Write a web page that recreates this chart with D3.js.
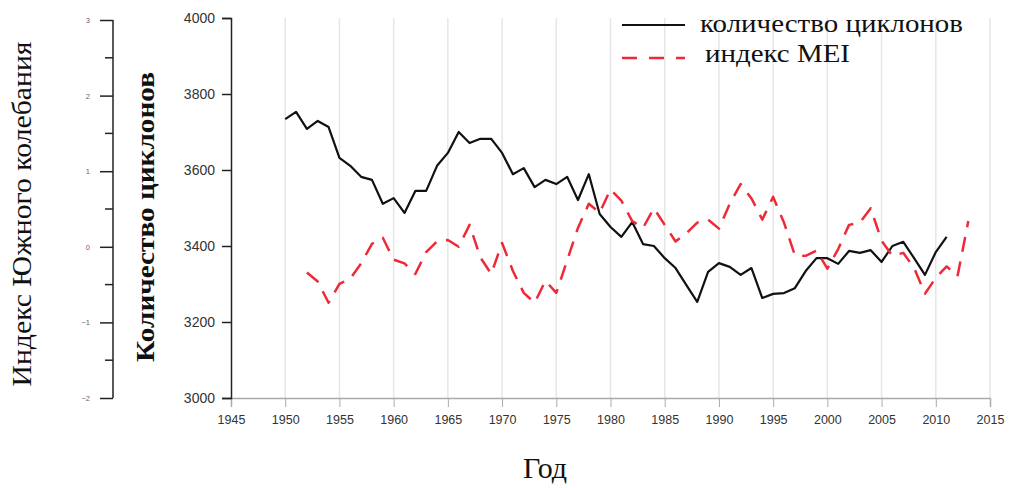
<!DOCTYPE html>
<html lang="ru">
<head>
    <meta charset="UTF-8">
    <script src="https://d3js.org/d3.v7.min.js"></script>
    <style>
        body { margin: 0; background: white; }
        text { font-family: "Liberation Sans", Arial, sans-serif; }
    </style>
</head>
<body>
    <svg id="chart" width="1010" height="488"></svg>
    <script>
        // годы и количество циклонов (1950-2011)
        const cycloneYears = d3.range(1950, 2012);
        const cyclones = [3734, 3753, 3708, 3729, 3713, 3632, 3611, 3582, 3574, 3511,
                          3526, 3487, 3545, 3545, 3611, 3645, 3700, 3671, 3682, 3682,
                          3645, 3589, 3605, 3555, 3574, 3563, 3582, 3521, 3589, 3484,
                          3450, 3424, 3463, 3405, 3400, 3368, 3342, 3297, 3253, 3332,
                          3355, 3345, 3324, 3342, 3263, 3274, 3276, 3289, 3334, 3368,
                          3368, 3353, 3387, 3382, 3389, 3358, 3400, 3411, 3368, 3324,
                          3384, 3424];

        // индекс MEI (1952-2013)
        const meiYears = d3.range(1952, 2014);
        const mei = [-0.34, -0.46, -0.74, -0.49, -0.42, -0.22, 0.04, 0.12, -0.17, -0.22,
                     -0.36, -0.07, 0.07, 0.09, 0.00, 0.29, -0.14, -0.36, 0.05, -0.32,
                     -0.61, -0.74, -0.45, -0.61, -0.18, 0.25, 0.57, 0.45, 0.76, 0.61,
                     0.34, 0.25, 0.51, 0.29, 0.07, 0.18, 0.32, 0.36, 0.24, 0.57,
                     0.83, 0.64, 0.36, 0.66, 0.32, -0.11, -0.12, -0.05, -0.29, -0.03,
                     0.29, 0.32, 0.51, 0.08, -0.12, -0.08, -0.28, -0.62, -0.41, -0.26,
                     -0.39, 0.34];

        const yearTicks = d3.range(1945, 2016, 5);
        const cycloneTicks = [3000, 3200, 3400, 3600, 3800, 4000];
        const indexTicks = [-2, -1, 0, 1, 2, 3];

        const serif = '"Liberation Serif", "DejaVu Serif", "Times New Roman", serif';
        const svg = d3.select("#chart");

        const x = d3.scaleLinear().domain([1945, 2015]).range([231, 990]);
        const y = d3.scaleLinear().domain([3000, 4000]).range([398, 18]);
        const yIdx = d3.scaleLinear().domain([-2, 3]).range([398, 20]);

        // вертикальная сетка
        svg.append("g")
            .selectAll("line")
            .data(yearTicks.slice(1))
            .enter().append("line")
            .attr("x1", d => x(d)).attr("x2", d => x(d))
            .attr("y1", y(4000)).attr("y2", y(3000))
            .attr("stroke", "#e6e6e6")
            .attr("stroke-width", 1.5);

        // ось X
        const xAxis = svg.append("g")
            .attr("transform", `translate(0,${y(3000)})`)
            .call(d3.axisBottom(x).tickValues(yearTicks).tickFormat(d3.format("d")).tickSize(9).tickPadding(8));
        xAxis.select(".domain").attr("stroke", "#aaa").attr("stroke-width", 1.5);
        xAxis.selectAll(".tick line").attr("stroke", "#aaa");
        xAxis.selectAll("text").attr("fill", "#333").style("font-size", "12.5px");

        // ось циклонов
        const yAxis = svg.append("g")
            .attr("transform", `translate(${x(1945)},0)`)
            .call(d3.axisLeft(y).tickValues(cycloneTicks).tickFormat(d3.format("d")).tickSize(9).tickPadding(7));
        yAxis.select(".domain").attr("stroke", "#222").attr("stroke-width", 1.5);
        yAxis.selectAll(".tick line").attr("stroke", "#222").attr("stroke-width", 1.5);
        yAxis.selectAll("text").attr("fill", "#333").style("font-size", "14px");

        // ось индекса Южного колебания
        const idxAxis = svg.append("g")
            .attr("transform", "translate(113,0)")
            .call(d3.axisLeft(yIdx).tickValues(indexTicks).tickFormat(d3.format("d")).tickSize(13).tickPadding(10));
        idxAxis.select(".domain").attr("stroke", "#222").attr("stroke-width", 1.5).attr("d", `M0,${yIdx(3)}V${yIdx(-2)}`);
        idxAxis.selectAll(".tick line").attr("stroke", "#222").attr("stroke-width", 1.5);
        idxAxis.selectAll("text").attr("fill", "#666").style("font-size", "7.5px");
        idxAxis.selectAll(".minor")
            .data([-1.5, -0.5, 0.5, 1.5, 2.5])
            .enter().append("line")
            .attr("class", "minor")
            .attr("x1", -8).attr("x2", 0)
            .attr("y1", d => yIdx(d)).attr("y2", d => yIdx(d))
            .attr("stroke", "#222").attr("stroke-width", 1.5);

        // линии
        const cycLine = d3.line().x((d, i) => x(cycloneYears[i])).y(d => y(d));
        svg.append("path")
            .datum(cyclones)
            .attr("d", cycLine)
            .attr("fill", "none")
            .attr("stroke", "#111")
            .attr("stroke-width", 2.2)
            .attr("stroke-linejoin", "round");

        const meiLine = d3.line().x((d, i) => x(meiYears[i])).y(d => yIdx(d));
        svg.append("path")
            .datum(mei)
            .attr("d", meiLine)
            .attr("fill", "none")
            .attr("stroke", "#ee2a38")
            .attr("stroke-width", 2.5)
            .attr("stroke-dasharray", "15,10")
            .attr("stroke-linejoin", "round");

        // подписи осей
        svg.append("text")
            .attr("transform", "translate(31,214) rotate(-90)")
            .attr("text-anchor", "middle")
            .style("font-family", serif)
            .style("font-size", "28px")
            .attr("textLength", 345)
            .attr("lengthAdjust", "spacingAndGlyphs")
            .attr("fill", "#111")
            .text("Индекс Южного колебания");

        svg.append("text")
            .attr("transform", "translate(154,217) rotate(-90)")
            .attr("text-anchor", "middle")
            .style("font-family", serif)
            .style("font-size", "26px")
            .style("font-weight", "bold")
            .attr("textLength", 290)
            .attr("lengthAdjust", "spacingAndGlyphs")
            .attr("fill", "#111")
            .text("Количество циклонов");

        svg.append("text")
            .attr("x", 545).attr("y", 478)
            .attr("text-anchor", "middle")
            .style("font-family", serif)
            .style("font-size", "30px")
            .attr("fill", "#111")
            .text("Год");

        // легенда
        const legend = svg.append("g");
        legend.append("line")
            .attr("x1", 622).attr("x2", 685).attr("y1", 25).attr("y2", 25)
            .attr("stroke", "#111").attr("stroke-width", 2.2);
        legend.append("text")
            .attr("x", 700).attr("y", 32)
            .style("font-family", serif)
            .style("font-size", "25px")
            .attr("textLength", 263)
            .attr("lengthAdjust", "spacingAndGlyphs")
            .attr("fill", "#111")
            .text("количество циклонов");
        legend.append("line")
            .attr("x1", 622).attr("x2", 685).attr("y1", 58).attr("y2", 58)
            .attr("stroke", "#ee2a38").attr("stroke-width", 2.5)
            .attr("stroke-dasharray", "15,12");
        legend.append("text")
            .attr("x", 705).attr("y", 62)
            .style("font-family", serif)
            .style("font-size", "25px")
            .attr("textLength", 145)
            .attr("lengthAdjust", "spacingAndGlyphs")
            .attr("fill", "#111")
            .text("индекс MEI");
    </script>
</body>
</html>
